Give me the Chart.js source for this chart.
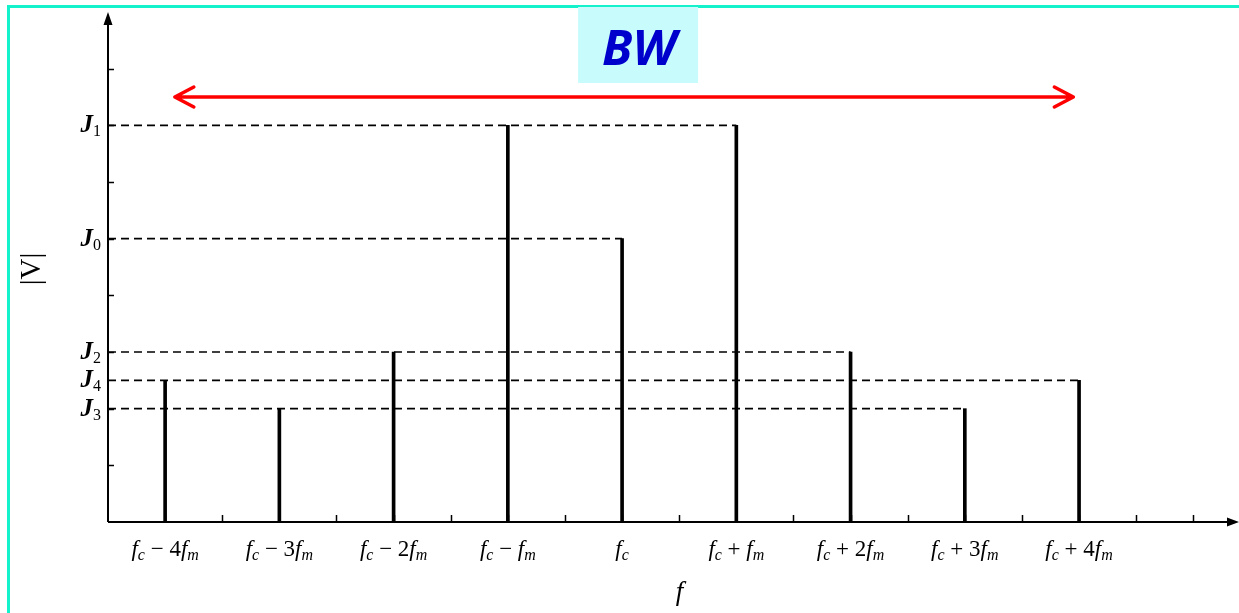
<!DOCTYPE html>
<html>
<head>
<meta charset="utf-8">
<title>FM spectrum</title>
<script src="https://cdn.jsdelivr.net/npm/chart.js@4/dist/chart.umd.min.js"></script>
<style>
    html, body { margin: 0; padding: 0; background: #fff; overflow: hidden; }
    .frame {
        position: absolute; left: 7px; top: 5px; width: 1300px; height: 700px;
        border: 3px solid #14f2cc; box-sizing: border-box;
    }
    .wrap { position: absolute; left: 0; top: 0; width: 1239px; height: 613px; }
</style>
</head>
<body>
<div class="frame"></div>
<div class="wrap"><canvas id="chart" width="1239" height="613"></canvas></div>
<script>
/* ── Data ── */
// spectral lines: position on the f axis and offset n in fc + n·fm
const lineX = [1, 3, 5, 7, 9, 11, 13, 15, 17];
const lineOffsets = [-4, -3, -2, -1, 0, 1, 2, 3, 4];
const lineOrders = [4, 3, 2, 1, 0, 1, 2, 3, 4];      // Bessel order J_n of each line
// Bessel amplitude levels read off the |V| axis
const besselOrders = [1, 0, 2, 4, 3];
const besselValues = [7, 5, 3, 2.5, 2];
// axis extents and minor ticks
const xMax = 19.8;
const yMax = 9;
const xTicks = [1, 2, 3, 4, 5, 6, 7, 8, 9, 10, 11, 12, 13, 14, 15, 16, 17, 18, 19];
const yTicks = [1, 2, 3, 4, 5, 6, 7, 8];
// bandwidth arrow
const bwSpan = [1.17, 16.9];
const bwLevel = 7.5;

const SERIF = '"Liberation Serif", "Times New Roman", serif';

function levelOf(order) {
    return besselValues[besselOrders.indexOf(order)];
}

/* ── Datasets ── */
const lineData = lineX.map((x, i) => ({ x: x, y: levelOf(lineOrders[i]) }));

const dashSets = besselOrders.map((ord, k) => {
    const reach = Math.max(...lineX.filter((x, i) => lineOrders[i] === ord));
    return {
        type: 'line',
        data: [{ x: 0, y: besselValues[k] }, { x: reach, y: besselValues[k] }],
        borderColor: '#000',
        borderWidth: 1.6,
        borderDash: [8, 5],
        pointRadius: 0,
        fill: false,
        order: 2,
    };
});

/* ── Rich text helper (italic f with subscripts) ── */
function drawRich(ctx, parts, x, baseline, align) {
    let w = 0;
    parts.forEach((p) => { ctx.font = p.font; p.w = ctx.measureText(p.t).width; w += p.w; });
    let cx = align === 'right' ? x - w : x - w / 2;
    parts.forEach((p) => {
        ctx.font = p.font;
        ctx.fillText(p.t, cx, baseline + (p.dy || 0));
        cx += p.w;
    });
}

function freqLabel(n) {
    const it = 'italic 23px ' + SERIF;
    const sub = 'italic 16px ' + SERIF;
    const up = '23px ' + SERIF;
    const parts = [{ t: 'f', font: it }, { t: 'c', font: sub, dy: 4 }];
    if (n === 0) return parts;
    const k = Math.abs(n);
    parts.push({ t: n < 0 ? ' \u2212 ' : ' + ', font: up });
    if (k > 1) parts.push({ t: String(k), font: up });
    parts.push({ t: 'f', font: it }, { t: 'm', font: sub, dy: 4 });
    return parts;
}

/* ── Axes, labels and BW annotation ── */
const decorPlugin = {
    id: 'decor',
    afterDatasetsDraw(chart) {
        const ctx = chart.ctx;
        const xs = chart.scales.x;
        const ys = chart.scales.y;
        const x0 = xs.getPixelForValue(0);
        const y0 = ys.getPixelForValue(0);
        const xEnd = xs.getPixelForValue(xMax);
        const yTop = ys.getPixelForValue(yMax);

        ctx.save();
        ctx.strokeStyle = '#000';
        ctx.fillStyle = '#000';

        // axis lines
        ctx.lineWidth = 2;
        ctx.beginPath();
        ctx.moveTo(x0, y0); ctx.lineTo(x0, yTop + 8);
        ctx.moveTo(x0, y0); ctx.lineTo(xEnd - 8, y0);
        ctx.stroke();

        // arrow heads
        ctx.beginPath();
        ctx.moveTo(x0, yTop); ctx.lineTo(x0 - 4.5, yTop + 13); ctx.lineTo(x0 + 4.5, yTop + 13); ctx.closePath();
        ctx.moveTo(xEnd, y0); ctx.lineTo(xEnd - 12, y0 - 4.5); ctx.lineTo(xEnd - 12, y0 + 4.5); ctx.closePath();
        ctx.fill();

        // inward ticks
        ctx.lineWidth = 1.5;
        ctx.beginPath();
        xTicks.forEach((v) => {
            const px = Math.round(xs.getPixelForValue(v)) + 0.5;
            ctx.moveTo(px, y0); ctx.lineTo(px, y0 - 7);
        });
        yTicks.forEach((v) => {
            const py = Math.round(ys.getPixelForValue(v)) + 0.5;
            ctx.moveTo(x0, py); ctx.lineTo(x0 + 6, py);
        });
        ctx.stroke();

        // frequency labels
        ctx.textBaseline = 'alphabetic';
        lineX.forEach((x, i) => {
            drawRich(ctx, freqLabel(lineOffsets[i]), xs.getPixelForValue(x), y0 + 34, 'center');
        });

        // Bessel level labels
        besselOrders.forEach((ord, k) => {
            const py = ys.getPixelForValue(besselValues[k]);
            drawRich(ctx, [
                { t: 'J', font: 'italic bold 25px ' + SERIF },
                { t: String(ord), font: '16px ' + SERIF, dy: 4 },
            ], x0 - 7, py + 7, 'right');
        });

        // axis titles
        ctx.font = 'italic 27px ' + SERIF;
        ctx.textAlign = 'center';
        ctx.fillText('f', (x0 + xEnd) / 2 + 6, y0 + 78);

        ctx.save();
        ctx.translate(40, (y0 + yTop) / 2 + 2);
        ctx.rotate(-Math.PI / 2);
        ctx.font = '29px ' + SERIF;
        ctx.fillText('|V|', 0, 0);
        ctx.restore();

        // BW double arrow
        const bx1 = xs.getPixelForValue(bwSpan[0]);
        const bx2 = xs.getPixelForValue(bwSpan[1]);
        const by = ys.getPixelForValue(bwLevel);
        ctx.strokeStyle = '#ff0000';
        ctx.lineWidth = 3.5;
        ctx.lineCap = 'round';
        ctx.lineJoin = 'round';
        ctx.beginPath();
        ctx.moveTo(bx1, by); ctx.lineTo(bx2, by);
        ctx.moveTo(bx1 + 19, by - 10); ctx.lineTo(bx1, by); ctx.lineTo(bx1 + 19, by + 10);
        ctx.moveTo(bx2 - 19, by - 10); ctx.lineTo(bx2, by); ctx.lineTo(bx2 - 19, by + 10);
        ctx.stroke();

        // BW label box
        const cx = (bx1 + bx2) / 2 + 14;
        ctx.fillStyle = '#c8fcfc';
        ctx.fillRect(cx - 60, 7, 120, 76);
        ctx.fillStyle = '#0000cc';
        ctx.font = 'italic bold 49px "Open Sans", "DejaVu Sans", sans-serif';
        ctx.textAlign = 'center';
        ctx.fillText('BW', cx + 1, 65);

        ctx.restore();
    },
};

/* ── Chart ── */
new Chart(document.getElementById('chart'), {
    type: 'bar',
    data: {
        datasets: [
            {
                type: 'bar',
                data: lineData,
                backgroundColor: '#000',
                barThickness: 3,
                order: 1,
            },
            ...dashSets,
        ],
    },
    options: {
        responsive: false,
        animation: false,
        layout: { padding: { left: 108, right: 0, top: 12, bottom: 91 } },
        scales: {
            x: { type: 'linear', min: 0, max: xMax, offset: false, display: false },
            y: { type: 'linear', min: 0, max: yMax, display: false },
        },
        plugins: {
            legend: { display: false },
            tooltip: { enabled: false },
        },
    },
    plugins: [decorPlugin],
});
</script>
</body>
</html>
